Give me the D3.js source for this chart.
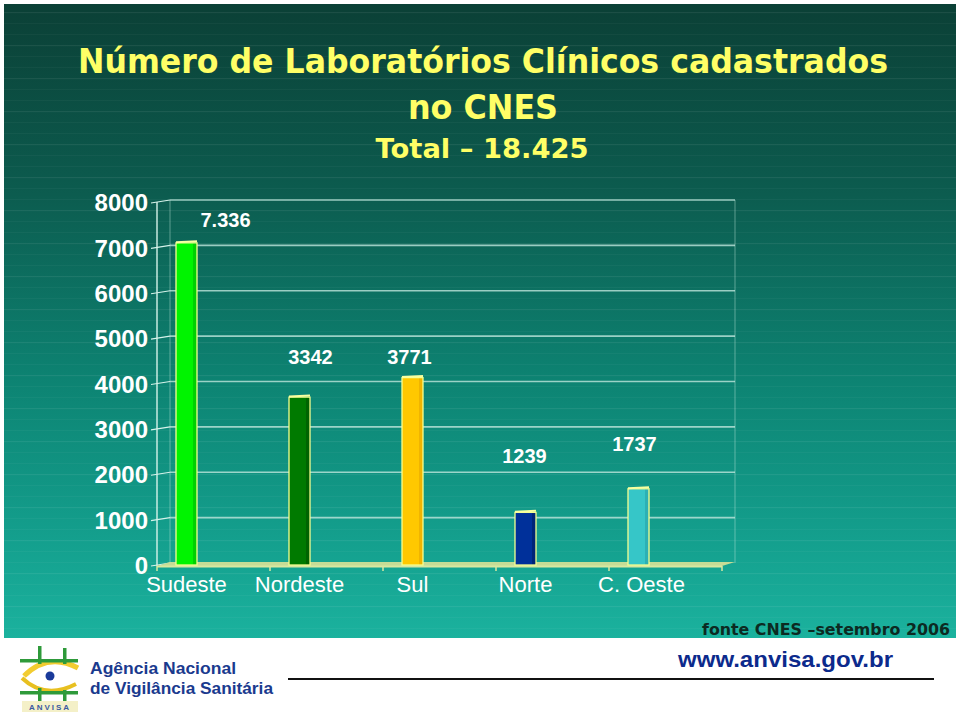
<!DOCTYPE html>
<html><head><meta charset="utf-8">
<script src="https://cdn.jsdelivr.net/npm/d3@7"></script>
<style>body{margin:0;background:#fff} svg{display:block}</style>
</head><body>
<svg id="c" width="960" height="715"></svg>
<script>
// ---- data ----
const categories = ["Sudeste", "Nordeste", "Sul", "Norte", "C. Oeste"];
const barValues = [7100, 3700, 4130, 1160, 1680];          // bar heights as drawn
const valueLabels = ["7.336", "3342", "3771", "1239", "1737"]; // printed labels
const tickValues = [0, 1000, 2000, 3000, 4000, 5000, 6000, 7000, 8000];
const titleLines = ["Número de Laboratórios Clínicos cadastrados", "no CNES", "Total – 18.425"];
const sourceText = "fonte CNES –setembro 2006";
const siteText = "www.anvisa.gov.br";
const agencyLines = ["Agência Nacional", "de Vigilância Sanitária"];

// ---- layout / style (not data) ----
const barFill = ["#00f400", "#007a00", "#ffc800", "#00309a", "#36c6c8"];
const barSide = ["#00d000", "#006400", "#f0b400", "#002478", "#2cb0b4"];
const labelLevel = [7600, 4575, 4575, 2410, 2675]; // vertical anchor of the hand-placed labels
const labelShift = [39, 11, -3, -1, -4];

const svg = d3.select("#c");
const defs = svg.append("defs");
const g = defs.append("linearGradient").attr("id", "bg").attr("x1", 0).attr("y1", 0).attr("x2", 0).attr("y2", 1);
[[0, "#0b4036"], [0.3, "#0c5c4f"], [0.6, "#0d8473"], [0.85, "#14a08e"], [1, "#1bb29e"]]
  .forEach(([o, c]) => g.append("stop").attr("offset", o).attr("stop-color", c));

svg.append("rect").attr("width", 960).attr("height", 715).attr("fill", "#fff");
svg.append("rect").attr("x", 4).attr("y", 4).attr("width", 952).attr("height", 634).attr("fill", "url(#bg)");
// faint horizontal stripes of the template
const stripes = d3.range(12, 636, 11);
svg.append("g").selectAll("rect").data(stripes).join("rect")
  .attr("x", 4).attr("width", 952).attr("y", d => d).attr("height", 1.2)
  .attr("fill", "#ffffff").attr("opacity", (d, i) => i % 3 === 0 ? 0.07 : 0.035);

// ---- title ----
const yellow = "#ffff66";
const tf = "'Liberation Sans', Arial, sans-serif";
const hf = "'DejaVu Sans', Verdana, sans-serif";
svg.append("text").attr("x", 483).attr("y", 73).attr("text-anchor", "middle")
  .attr("font-family", hf).attr("font-weight", "bold").attr("font-size", 33).attr("fill", yellow)
  .attr("textLength", 810).attr("lengthAdjust", "spacingAndGlyphs").text(titleLines[0]);
svg.append("text").attr("x", 483).attr("y", 119).attr("text-anchor", "middle")
  .attr("font-family", hf).attr("font-weight", "bold").attr("font-size", 33).attr("fill", yellow)
  .attr("textLength", 150).attr("lengthAdjust", "spacingAndGlyphs").text(titleLines[1]);
svg.append("text").attr("x", 482).attr("y", 158).attr("text-anchor", "middle")
  .attr("font-family", hf).attr("font-weight", "bold").attr("font-size", 26).attr("fill", yellow)
  .attr("textLength", 213).attr("lengthAdjust", "spacingAndGlyphs").text(titleLines[2]);

// ---- chart ----
const x = d3.scaleBand().domain(categories).range([157, 722]);
const y = d3.scaleLinear().domain([0, 8000]).range([565, 202]);
const depthX = 13, depthY = -2;
const gridCol = "#bfe6dc";

const chart = svg.append("g");
// back wall edges
chart.append("line").attr("x1", 157 + depthX).attr("x2", 157 + depthX)
  .attr("y1", y(8000) + depthY).attr("y2", y(0) + depthY).attr("stroke", gridCol).attr("stroke-opacity", 0.45);
chart.append("line").attr("x1", 722 + depthX).attr("x2", 722 + depthX)
  .attr("y1", y(8000) + depthY).attr("y2", y(0) + depthY).attr("stroke", gridCol).attr("stroke-opacity", 0.45);
// gridlines on back wall
chart.append("g").selectAll("line").data(tickValues.filter(d => d > 0)).join("line")
  .attr("x1", 157 + depthX).attr("x2", 722 + depthX)
  .attr("y1", d => y(d) + depthY).attr("y2", d => y(d) + depthY)
  .attr("stroke", gridCol).attr("stroke-width", 1.6).attr("stroke-opacity", 0.8);
// connectors from front axis to wall
chart.append("g").selectAll("line").data(tickValues).join("line")
  .attr("x1", 151).attr("x2", 157 + depthX)
  .attr("y1", d => y(d) + 1).attr("y2", d => y(d) + depthY)
  .attr("stroke", "#d6f2ea").attr("stroke-width", 1.2);
// front axis line
chart.append("line").attr("x1", 157).attr("x2", 157).attr("y1", y(8000)).attr("y2", y(0) + 1)
  .attr("stroke", "#d6f2ea").attr("stroke-width", 1.4);
// floor
chart.append("polygon")
  .attr("points", [[157, y(0) + 1], [722, y(0) + 1], [722 + depthX, y(0) + depthY - 1], [157 + depthX, y(0) + depthY - 1]].join(" "))
  .attr("fill", "#c6dc96");
chart.append("line").attr("x1", 157).attr("x2", 722).attr("y1", y(0) + 1.5).attr("y2", y(0) + 1.5)
  .attr("stroke", "#d8e8a0").attr("stroke-width", 2);
// category ticks
chart.append("g").selectAll("line").data(categories.map(c => x(c)).concat([722])).join("line")
  .attr("x1", d => d).attr("x2", d => d).attr("y1", y(0) + 1).attr("y2", y(0) + 6)
  .attr("stroke", "#d8e8a0").attr("stroke-width", 1.5);

// y tick labels through d3 axis
const yAxis = chart.append("g").attr("transform", "translate(148,1)")
  .call(d3.axisLeft(y).tickValues(tickValues).tickSize(0).tickPadding(0).tickFormat(d3.format("d")));
yAxis.select(".domain").remove();
yAxis.selectAll("text").attr("fill", "#ffffff").attr("font-family", tf)
  .attr("font-weight", "bold").attr("font-size", 24);

// bars
const bw = 21, boff = 19, side = 4;
const bars = chart.append("g").selectAll("g").data(categories).join("g");
bars.append("rect")
  .attr("x", c => x(c) + boff).attr("width", bw)
  .attr("y", (c, i) => y(barValues[i])).attr("height", (c, i) => y(0) - y(barValues[i]))
  .attr("fill", (c, i) => barFill[i]);
bars.append("rect")
  .attr("x", c => x(c) + boff + bw - side).attr("width", side)
  .attr("y", (c, i) => y(barValues[i])).attr("height", (c, i) => y(0) - y(barValues[i]))
  .attr("fill", (c, i) => barSide[i]);
bars.append("rect")
  .attr("x", c => x(c) + boff).attr("width", bw)
  .attr("y", (c, i) => y(barValues[i])).attr("height", (c, i) => y(0) - y(barValues[i]))
  .attr("fill", "none").attr("stroke", "#f4ff90").attr("stroke-width", 1.3);
bars.append("line")
  .attr("x1", c => x(c) + boff).attr("x2", c => x(c) + boff + bw)
  .attr("y1", (c, i) => y(barValues[i]) - 0.5).attr("y2", (c, i) => y(barValues[i]) - 1.5)
  .attr("stroke", "#f8ffa0").attr("stroke-width", 2);

// value labels
chart.append("g").selectAll("text").data(valueLabels).join("text")
  .attr("x", (d, i) => x(categories[i]) + boff + bw / 2 + labelShift[i])
  .attr("y", (d, i) => y(labelLevel[i]) + 7)
  .attr("text-anchor", "middle").attr("fill", "#ffffff").attr("font-family", tf)
  .attr("font-size", 20).attr("font-weight", "bold").text(d => d);

// category labels
chart.append("g").selectAll("text").data(categories).join("text")
  .attr("x", (c, i) => x(c) + boff + bw / 2 + (i === 4 ? 3 : 0))
  .attr("y", y(0) + 27)
  .attr("text-anchor", "middle").attr("fill", "#ffffff").attr("font-family", tf)
  .attr("font-size", 22).text(c => c);

// ---- source ----
svg.append("text").attr("x", 950).attr("y", 635).attr("text-anchor", "end")
  .attr("font-family", hf).attr("font-weight", "bold")
  .attr("font-size", 15).attr("fill", "#0c2a22")
  .attr("textLength", 248).attr("lengthAdjust", "spacingAndGlyphs").text(sourceText);

// ---- footer ----
const navy = "#1a3a8e";
svg.append("text").attr("x", 678).attr("y", 667).attr("font-family", tf).attr("font-weight", "bold")
  .attr("font-size", 22).attr("fill", "#0c2a8c")
  .attr("textLength", 215).attr("lengthAdjust", "spacingAndGlyphs").text(siteText);
svg.append("line").attr("x1", 288).attr("x2", 934).attr("y1", 679).attr("y2", 679)
  .attr("stroke", "#111").attr("stroke-width", 2.2);
svg.append("text").attr("x", 90).attr("y", 674).attr("font-family", tf).attr("font-weight", "bold")
  .attr("font-size", 17).attr("fill", navy)
  .attr("textLength", 146).attr("lengthAdjust", "spacingAndGlyphs").text(agencyLines[0]);
svg.append("text").attr("x", 90).attr("y", 694).attr("font-family", tf).attr("font-weight", "bold")
  .attr("font-size", 17).attr("fill", navy)
  .attr("textLength", 183).attr("lengthAdjust", "spacingAndGlyphs").text(agencyLines[1]);

// logo
const logo = svg.append("g");
const lg = "#2e9a3a";
logo.append("path").attr("d", "M24,676 Q48,652 78,668").attr("fill", "none").attr("stroke", "#f2cc30").attr("stroke-width", 5);
logo.append("path").attr("d", "M22,678 Q45,700 76,684").attr("fill", "none").attr("stroke", "#e8c020").attr("stroke-width", 4);
[[38, 646, 3.5, 18], [63, 648, 3.5, 16], [20, 659, 58, 3.5],
 [38, 688, 3.5, 18], [63, 690, 3.5, 14], [20, 691, 58, 3.5]].forEach(r =>
  logo.append("rect").attr("x", r[0]).attr("y", r[1]).attr("width", r[2]).attr("height", r[3]).attr("fill", lg));
logo.append("circle").attr("cx", 50).attr("cy", 676).attr("r", 4.5).attr("fill", "#1a3a9a");
logo.append("rect").attr("x", 22).attr("y", 701).attr("width", 56).attr("height", 11).attr("fill", "#f4f0c8");
logo.append("text").attr("x", 50).attr("y", 710).attr("text-anchor", "middle").attr("font-family", tf)
  .attr("font-weight", "bold").attr("font-size", 8).attr("fill", "#3a5aa0")
  .attr("letter-spacing", 2).text("ANVISA");
</script>
</body></html>
